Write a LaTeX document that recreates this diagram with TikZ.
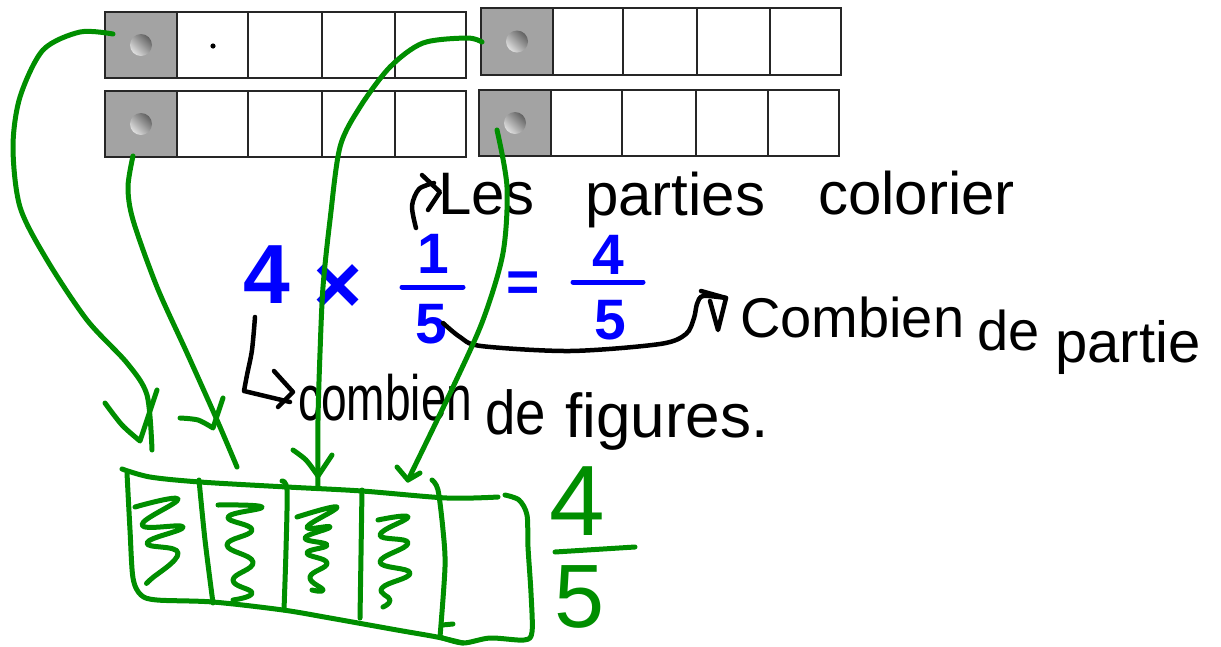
\documentclass[tikz,border=0pt]{standalone}
\usepackage{fontspec}
\setmainfont{Liberation Sans}
\definecolor{hgreen}{RGB}{0,142,0}
\definecolor{hblue}{RGB}{0,0,255}
\newcommand\mybar[9]{%
  \node[gcell,minimum width={#5pt-#4pt},minimum height={#3pt-#2pt}] (#1) at ({(#4+#5)/2},{(#2+#3)/2}) {};
  \shade[left color=black!62,right color=black!12,shading angle=-45] (#1.center) circle (11);
  \draw[cell] (#5,#2) rectangle (#6,#3) (#6,#2) rectangle (#7,#3) (#7,#2) rectangle (#8,#3) (#8,#2) rectangle (#9,#3);
}
\begin{document}
\begin{tikzpicture}[x=1pt,y=-1pt,
  cell/.style={draw=black!85,line width=1.8pt},
  gcell/.style={cell,fill=black!36,inner sep=0pt,outer sep=0pt},
  gpen/.style={draw=hgreen,line width=5pt,line cap=round,line join=round},
  kpen/.style={draw=black,line width=4.5pt,line cap=round,line join=round},
  bpen/.style={draw=hblue,line width=5pt,line cap=round},
  hw/.style={inner sep=0pt,anchor=base west,text=black},
  bm/.style={inner sep=0pt,anchor=base,text=hblue,font=\bfseries\fontsize{57}{64}\selectfont},
  gt/.style={inner sep=0pt,anchor=base,text=hgreen}]
\useasboundingbox (0,0) rectangle (1221,646);

% top bars
\mybar{g1}{12}{78}{105}{177}{248}{322}{395}{466}
\mybar{g2}{91}{157}{105}{177}{248}{322}{395}{466}
\mybar{g3}{8}{75}{481}{553}{623}{697}{770}{841}
\mybar{g4}{90}{156}{479}{551}{622}{696}{768}{839}
\fill (213,46) circle (2.6);

% blue equation
\node[bm,font=\bfseries\fontsize{84}{90}\selectfont] (four) at (267,303) {4};
\node[bm,font=\bfseries\fontsize{84}{90}\selectfont] (times) at (338,313) {×};
\node[bm] (n1) at (433,273) {1};
\node[bm] (d1) at (431,343) {5};
\draw[bpen] (402,287) -- (463,287);
\node[bm] (eq) at (523,301) {=};
\node[bm] (n2) at (608,274) {4};
\node[bm] (d2) at (610,339) {5};
\draw[bpen] (573,282) -- (643,282);

% handwritten black text
\node[hw,font=\fontsize{60}{70}\selectfont] (les) at (438,214) {Les};
\node[hw,font=\fontsize{60}{70}\selectfont] (parties) at (585,215) {parties};
\node[hw,font=\fontsize{60}{70}\selectfont] (colorier) at (818,214) {colorier};
\node[hw,font=\fontsize{56}{66}\selectfont] (combien1) at (740,337) {Combien};
\node[hw,font=\fontsize{56}{66}\selectfont] (de1) at (977,350) {de};
\node[hw,font=\fontsize{58}{66}\selectfont] (partie) at (1055,362) {partie};
\node[hw,font=\fontsize{64}{70}\selectfont] (combien2) at (298,420) {\scalebox{0.72}[1]{combien}};
\node[hw,font=\fontsize{62}{70}\selectfont] (de2) at (485,434) {\scalebox{0.88}[1]{de}};
\node[hw,font=\fontsize{62}{70}\selectfont] (figures) at (565,437) {figures.};

% black hand arrows
\draw[kpen] plot[smooth] coordinates {(416,228) (412,206) (419,189) (434,183)};
\draw[kpen] (422,175) -- (440,192) -- (428,210);
\coordinate (b5) at (443,323);
\coordinate (bend) at (726,298);
\draw[kpen] plot[smooth] coordinates {(b5) (460,337) (481,346) (570,351) (660,344) (686,334) (694,318) (697,304) (703,296) (bend)};
\draw[kpen] (701,291) -- (bend) -- (718,330) -- (710,301);
\coordinate (lstart) at (255,317);
\coordinate (lend) at (290,402);
\draw[kpen] plot[smooth] coordinates {(lstart) (252,350) (247,375) (244,391)} -- (lend);
\draw[kpen] (274,371) -- (293,392) -- (278,407);

% green rectangle
\draw[gpen] plot[smooth] coordinates {(122,469) (150,477) (200,482) (287,487) (362,491) (447,498) (498,497)};
\draw[gpen] plot[smooth] coordinates {(127,473) (130,530) (133,578) (141,595) (157,600) (213,602) (283,610) (330,618) (397,630) (437,637) (463,643)};
\draw[gpen] plot[smooth] coordinates {(505,495) (519,500) (527,515) (528,547) (531,593) (532,632) (524,640) (490,638) (463,643) (440,637)};
\draw[gpen] plot[smooth] coordinates {(199,480) (205,540) (213,603)};
\draw[gpen] plot[smooth] coordinates {(282,481) (287,490) (286,550) (284,610)};
\draw[gpen] plot[smooth] coordinates {(362,490) (361,555) (360,618)};
\draw[gpen] plot[smooth] coordinates {(432,480) (438,490) (443,530) (445,567) (440,637)};
\draw[gpen] (442,625) -- (453,624);
% zigzags
\draw[gpen] plot[smooth,tension=0.8] coordinates {(135,507) (178,499) (142,525) (183,527) (147,543) (178,553) (150,580) (148,582)};
\draw[gpen] plot[smooth,tension=0.8] coordinates {(218,505) (262,507) (228,517) (252,530) (227,545) (253,562) (233,580) (252,593) (233,600)};
\draw[gpen] plot[smooth,tension=0.8] coordinates {(297,517) (337,507) (307,527) (330,527) (305,538) (327,545) (307,553) (327,563) (310,577) (323,590) (312,590)};
\draw[gpen] plot[smooth,tension=0.8] coordinates {(378,520) (408,517) (380,535) (408,543) (380,562) (410,573) (382,588) (390,600) (383,607)};

% green fraction
\node[gt,font=\fontsize{100}{110}\selectfont] (g4n) at (577,535) {4};
\draw[gpen] (555,552) -- (635,547);
\node[gt,font=\fontsize{90}{100}\selectfont] (g5d) at (580,627) {5};

% green arrows from the grey cells
\coordinate (a1) at (152,450);
\coordinate (a2) at (237,467);
\coordinate (a3) at (318,487);
\coordinate (a4) at (408,480);
\draw[gpen] plot[smooth] coordinates {(113,34) (80,32) (43,50) (20,97) (13,147) (20,207) (47,260) (87,320) (127,363) (147,395) (a1)};
\draw[gpen] plot[smooth] coordinates {(105,403) (122,425) (140,441)} -- (157,390);
\draw[gpen] plot[smooth] coordinates {(133,156) (128,187) (133,220) (157,287) (187,353) (217,420) (a2)};
\draw[gpen] plot[smooth] coordinates {(180,418) (198,420) (213,428)} -- (223,398);
\draw[gpen] plot[smooth] coordinates {(482,42) (467,38) (423,43) (390,67) (360,107) (340,147) (330,220) (323,287) (320,353) (318,420) (a3)};
\draw[gpen] plot[smooth] coordinates {(293,450) (306,460) (318,476)} -- (332,455);
\draw[gpen] plot[smooth] coordinates {(497,130) (507,187) (503,253) (483,320) (453,387) (a4)};
\draw[gpen] (397,467) -- (a4) -- (420,473);
\end{tikzpicture}
\end{document}
